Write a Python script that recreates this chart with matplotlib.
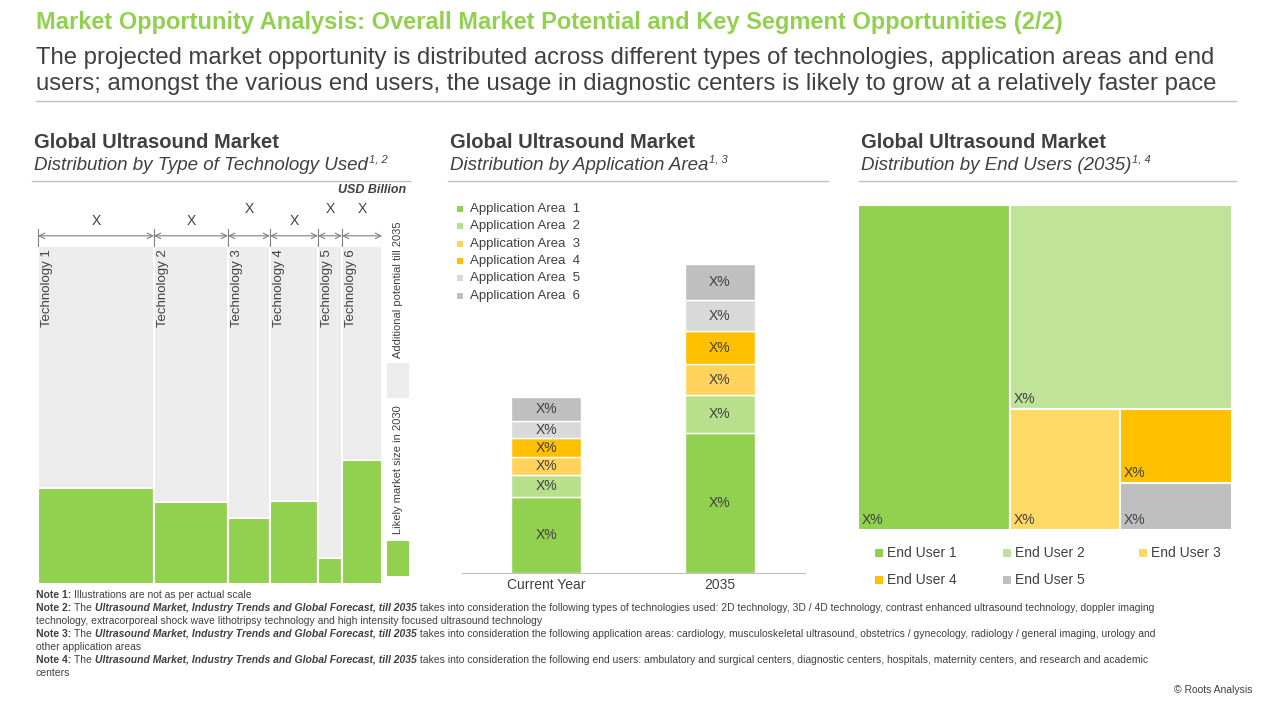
import matplotlib
matplotlib.use("Agg")
import matplotlib.pyplot as plt
from matplotlib.patches import Rectangle

plt.rcParams['font.family'] = ['Liberation Sans', 'DejaVu Sans']

GREEN = '#92d050'
GREY = '#ececec'

# left panel: technologies (relative market share widths, 2030 share of column height)
technologies = ['Technology 1', 'Technology 2', 'Technology 3', 'Technology 4', 'Technology 5', 'Technology 6']
tech_width = [116, 74, 42, 48, 24, 40]
tech_2030 = [0.284, 0.243, 0.195, 0.246, 0.077, 0.367]

# middle panel: application areas
app_areas = ['Application Area  1', 'Application Area  2', 'Application Area  3',
             'Application Area  4', 'Application Area  5', 'Application Area  6']
app_colors = ['#92d050', '#b8e08c', '#ffd35c', '#ffc000', '#d9d9d9', '#bfbfbf']
years = ['Current Year', '2035']
app_current = [76, 22, 18, 19, 17, 24]
app_2035 = [140, 38, 31, 33, 31, 36]

# right panel: end users (2035)
end_users = ['End User 1', 'End User 2', 'End User 3', 'End User 4', 'End User 5']
user_colors = ['#92d050', '#c0e39a', '#ffd966', '#ffc000', '#bfbfbf']
user_share = [49400, 45288, 13310, 8288, 5264]

W, H = 1280, 720
fig = plt.figure(figsize=(12.8, 7.2), dpi=100)
renderer = fig.canvas.get_renderer()


def fx(x):
    return x / W


def fy(y):
    return 1 - y / H


def txt(x, y, s, **kw):
    return fig.text(fx(x), fy(y), s, **kw)


def rich(x, y, pieces, **kw):
    # draw text pieces one after another on the same line
    for s, weight, style in pieces:
        t = txt(x, y, s, fontweight=weight, style=style, **kw)
        x += t.get_window_extent(renderer).width


def ax_px(x0, y0, x1, y1):
    return fig.add_axes([fx(x0), fy(y1), fx(x1 - x0), (y1 - y0) / H])


txt(36, 22, 'Market Opportunity Analysis: Overall Market Potential and Key Segment Opportunities (2/2)',
    color=GREEN, fontsize=17, fontweight='bold', va='center')
txt(36, 58, 'The projected market opportunity is distributed across different types of technologies, application areas and end',
    color='#404040', fontsize=17.2, va='center')
txt(36, 84, 'users; amongst the various end users, the usage in diagnostic centers is likely to grow at a relatively faster pace',
    color='#404040', fontsize=17.2, va='center')
fig.add_artist(plt.Line2D([fx(36), fx(1236)], [fy(101), fy(101)], color='#bfbfbf', lw=1))

for x0, x1, sub, sup in [(34, 410, 'Distribution by Type of Technology Used', '1, 2'),
                         (450, 828, 'Distribution by Application Area', '1, 3'),
                         (861, 1236, 'Distribution by End Users (2035)', '1, 4')]:
    txt(x0, 143, 'Global Ultrasound Market', fontsize=14.5, fontweight='bold', color='#404040', va='center')
    t = txt(x0, 166, sub, fontsize=13.5, style='italic', color='#404040', va='center')
    w = t.get_window_extent(renderer).width
    txt(x0 + w + 1, 160, sup, fontsize=8, style='italic', color='#404040', va='center')
    fig.add_artist(plt.Line2D([fx(x0 - 2), fx(x1)], [fy(181), fy(181)], color='#bfbfbf', lw=1))
txt(406, 190, 'USD Billion', fontsize=9, fontweight='bold', style='italic', color='#404040', ha='right', va='center')

# left: marimekko
ax = ax_px(38, 200, 382, 584)
total = sum(tech_width)
ax.set_xlim(0, total)
ax.set_ylim(0, 1.136)
ax.axis('off')
left = 0
for name, w, g in zip(technologies, tech_width, tech_2030):
    ax.add_patch(Rectangle((left, 0), w, 1, facecolor=GREY, edgecolor='white', lw=1.5))
    ax.add_patch(Rectangle((left, 0), w, g, facecolor=GREEN, edgecolor='white', lw=1.5))
    ax.text(left + 3, 0.99, name, rotation=90, ha='left', va='top', fontsize=9.5, color='#404040')
    ax.annotate('', xy=(left, 1.03), xytext=(left + w, 1.03),
                arrowprops=dict(arrowstyle='<->', color='#808080', lw=0.8, shrinkA=0, shrinkB=0))
    ax.plot([left, left], [1.0, 1.05], color='#808080', lw=0.8)
    ax.text(left + w / 2, 1.075 if w > 45 else 1.11, 'X', ha='center', va='center', fontsize=10, color='#404040')
    left += w
ax.plot([total, total], [1.0, 1.05], color='#808080', lw=0.8)

# legend strips for left panel
fig.add_artist(Rectangle((fx(387), fy(398)), fx(22), 35 / H, facecolor=GREY, transform=fig.transFigure))
fig.add_artist(Rectangle((fx(387), fy(576)), fx(22), 35 / H, facecolor=GREEN, transform=fig.transFigure))
txt(398, 290, 'Additional potential till 2035', rotation=90, fontsize=8, color='#404040', ha='center', va='center')
txt(398, 470, 'Likely market size in 2030', rotation=90, fontsize=8, color='#404040', ha='center', va='center')

# middle: stacked bars
ax = ax_px(462, 190, 805, 573)
ax.set_ylim(0, sum(app_2035) * 383 / 309)
ax.set_xlim(-0.483, 1.489)
for i, vals in enumerate([app_current, app_2035]):
    bottom = 0
    for v, c in zip(vals, app_colors):
        ax.bar(i, v, 0.40, bottom=bottom, color=c, edgecolor='white', lw=1)
        ax.text(i, bottom + v / 2, 'X%', ha='center', va='center', fontsize=10, color='#404040')
        bottom += v
ax.set_xticks([0, 1], years, fontsize=10, color='#404040')
ax.tick_params(length=0)
ax.set_yticks([])
for s in ['top', 'right', 'left']:
    ax.spines[s].set_visible(False)
ax.spines['bottom'].set_color('#bfbfbf')
for k, (name, c) in enumerate(zip(app_areas, app_colors)):
    y = 209 + k * 17.3
    fig.add_artist(Rectangle((fx(457), fy(y + 3)), fx(6), 6 / H, facecolor=c, transform=fig.transFigure))
    txt(470, y, name, fontsize=9.5, color='#404040', va='center')

# right: treemap
ax = ax_px(858, 205, 1232, 530)
ax.set_xlim(0, 1)
ax.set_ylim(0, 1)
ax.axis('off')
tot = sum(user_share)
w1 = user_share[0] / tot
rest = tot - user_share[0]
h2 = user_share[1] / rest
low = user_share[2] + user_share[3] + user_share[4]
w3 = (1 - w1) * user_share[2] / low
h4 = (1 - h2) * user_share[3] / (user_share[3] + user_share[4])
rects = [(0, 0, w1, 1), (w1, 1 - h2, 1 - w1, h2), (w1, 0, w3, 1 - h2),
         (w1 + w3, 1 - h2 - h4, 1 - w1 - w3, h4), (w1 + w3, 0, 1 - w1 - w3, 1 - h2 - h4)]
for (x, y, w, h), c in zip(rects, user_colors):
    ax.add_patch(Rectangle((x, y), w, h, facecolor=c, edgecolor='white', lw=1.5))
    ax.text(x + 0.01, y + 0.01, 'X%', ha='left', va='bottom', fontsize=10, color='#404040')
for k, (name, c) in enumerate(zip(end_users, user_colors)):
    x = 875 + (k % 3) * 128 + (k % 3 == 2) * 8
    y = 553 + (k // 3) * 27
    fig.add_artist(Rectangle((fx(x), fy(y + 4)), fx(8), 8 / H, facecolor=c, transform=fig.transFigure))
    txt(x + 12, y, name, fontsize=10, color='#404040', va='center')

ns = dict(fontsize=7.5, color='#404040', va='center')
report = 'Ultrasound Market, Industry Trends and Global Forecast, till 2035'
rich(36, 595, [('Note 1: ', 'bold', 'normal'), ('Illustrations are not as per actual scale', 'normal', 'normal')], **ns)
rich(36, 608, [('Note 2: ', 'bold', 'normal'), ('The ', 'normal', 'normal'), (report, 'bold', 'italic'),
               (' takes into consideration the following types of technologies used: 2D technology, 3D / 4D technology, contrast enhanced ultrasound technology, doppler imaging', 'normal', 'normal')], **ns)
txt(36, 621, 'technology, extracorporeal shock wave lithotripsy technology and high intensity focused ultrasound technology', **ns)
rich(36, 634, [('Note 3: ', 'bold', 'normal'), ('The ', 'normal', 'normal'), (report, 'bold', 'italic'),
               (' takes into consideration the following application areas: cardiology, musculoskeletal ultrasound, obstetrics / gynecology, radiology / general imaging, urology and', 'normal', 'normal')], **ns)
txt(36, 647, 'other application areas', **ns)
rich(36, 660, [('Note 4: ', 'bold', 'normal'), ('The ', 'normal', 'normal'), (report, 'bold', 'italic'),
               (' takes into consideration the following end users: ambulatory and surgical centers, diagnostic centers, hospitals, maternity centers, and research and academic', 'normal', 'normal')], **ns)
txt(36, 673, 'centers', **ns)
txt(1252, 690, '© Roots Analysis', fontsize=7.5, color='#404040', ha='right', va='center')

fig.savefig('out.png', dpi=100)
